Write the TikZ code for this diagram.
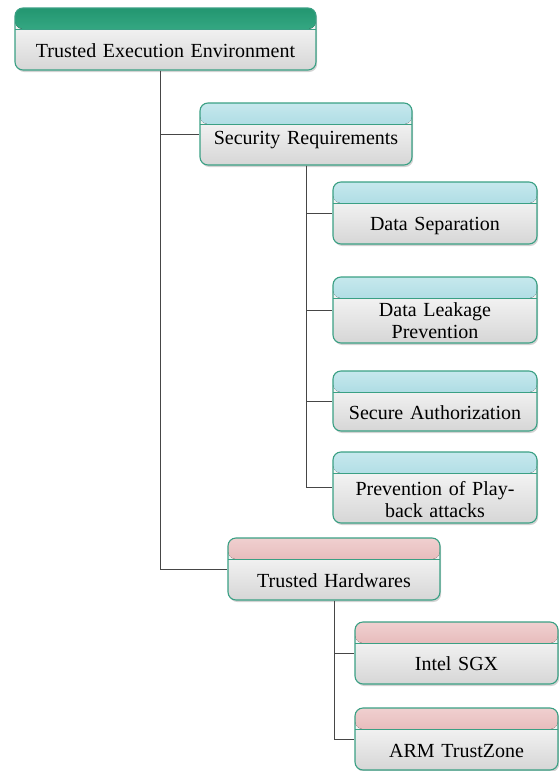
\documentclass[tikz,border=0pt]{standalone}
\usepackage{fontspec}
\setmainfont{Liberation Serif}
\definecolor{boxline}{RGB}{58, 160, 132}
\definecolor{greenhi}{RGB}{35, 150, 112}
\definecolor{greenlo}{RGB}{85, 200, 165}
\definecolor{bluehi}{RGB}{198, 232, 237}
\definecolor{bluelo}{RGB}{132, 200, 212}
\definecolor{redhi}{RGB}{240, 208, 208}
\definecolor{redlo}{RGB}{214, 150, 150}
\definecolor{bodygray}{RGB}{214, 214, 214}
\definecolor{branchgray}{RGB}{70, 70, 70}
\usetikzlibrary{shadows}

\begin{document}
\begin{tikzpicture}[x=1pt, y=-1pt,
  box/.style={draw=boxline, line width=1.1pt, rounded corners=8pt,
    top color=white, bottom color=bodygray,
    drop shadow={shadow xshift=1.2pt, shadow yshift=-2pt, opacity=0.35},
    inner xsep=0pt, inner ysep=0pt, align=center,
    font=\fontsize{20}{22}\selectfont},
  head/.style 2 args={path picture={
    \fill[top color=#1, bottom color=#2] (path picture bounding box.north west)
      rectangle ([yshift=-21pt]path picture bounding box.north east);
    \draw[boxline, line width=1pt] ([yshift=-21pt]path picture bounding box.north west)
      -- ([yshift=-21pt]path picture bounding box.north east);}},
  branch/.style={draw=branchgray, line width=0.9pt}]

  \useasboundingbox (0, 0) rectangle (559, 771);

  % Root
  \node[box, head={greenhi}{greenlo}, text width=301pt, text height=49pt, text depth=13pt]
    (tee) at (165.5, 39) {Trusted Execution Environment};

  % Security requirements branch
  \node[box, head={bluehi}{bluelo}, text width=212pt, text height=41pt, text depth=21pt]
    (secreq) at (306, 134) {Security Requirements};
  \node[box, head={bluehi}{bluelo}, text width=204pt, text height=48pt, text depth=14pt]
    (datasep) at (435, 213) {Data Separation};
  \node[box, head={bluehi}{bluelo}, text width=204pt, text height=39pt, text depth=27pt]
    (dataleak) at (435, 310) {Data Leakage\\Prevention};
  \node[box, head={bluehi}{bluelo}, text width=204pt, text height=48pt, text depth=12pt]
    (secauth) at (435, 401) {Secure Authorization};
  \node[box, head={bluehi}{bluelo}, text width=204pt, text height=43pt, text depth=28pt]
    (playback) at (435, 487.5) {Prevention of Play-\\back attacks};

  % Hardware branch
  \node[box, head={redhi}{redlo}, text width=212pt, text height=49pt, text depth=13pt]
    (trhw) at (334, 569) {Trusted Hardwares};
  \node[box, head={redhi}{redlo}, text width=203pt, text height=48pt, text depth=14pt]
    (sgx) at (456.5, 653) {Intel SGX};
  \node[box, head={redhi}{redlo}, text width=203pt, text height=49pt, text depth=13pt]
    (arm) at (456.5, 739) {ARM TrustZone};

  % Connectors
  \draw[branch] ([xshift=146pt]tee.south west) |- (secreq.west);
  \draw[branch] ([xshift=146pt]tee.south west) |- (trhw.west);
  \foreach \n in {datasep, dataleak, secauth, playback}
    \draw[branch] (secreq.south) |- (\n.west);
  \foreach \n in {sgx, arm}
    \draw[branch] (trhw.south) |- (\n.west);
\end{tikzpicture}
\end{document}
